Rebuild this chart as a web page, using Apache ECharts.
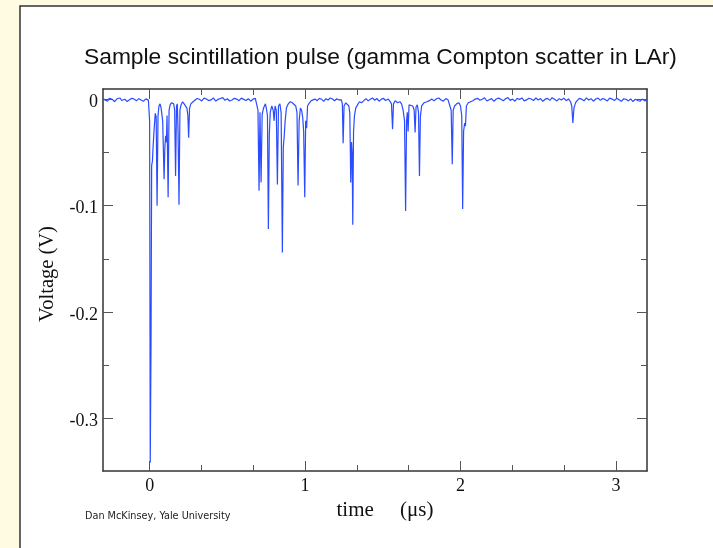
<!DOCTYPE html>
<html>
<head>
<meta charset="utf-8">
<title>Sample scintillation pulse</title>
<script src="https://cdn.jsdelivr.net/npm/echarts@6/dist/echarts.min.js"></script>
<style>
  html, body { margin: 0; padding: 0; background: #FFFBE3; }
  #chart { width: 713px; height: 548px; }
</style>
</head>
<body>
<div id="chart"></div>
<script>
// waveform, [time in us, volts], one array per stretch
const baselinePre = [
  [-0.30, 0.001], [-0.285, -0.0005], [-0.27, -0.0015], [-0.26, 0.0012], [-0.24, 0.0003], [-0.225, -0.002],
  [-0.21, 0.0008], [-0.19, 0.0015], [-0.18, -0.0008], [-0.16, 0.0004], [-0.145, -0.0018], [-0.13, -0.0002],
  [-0.115, 0.0012], [-0.10, 0.0006], [-0.085, -0.0012], [-0.07, 0.0009], [-0.055, -0.0004], [-0.04, -0.0016],
  [-0.025, 0.0007], [-0.008, -0.0005]
];
const burst1 = [
  [-0.003, -0.001], [0.000, -0.020], [0.004, -0.342], [0.009, -0.230], [0.013, -0.062], [0.018, -0.058],
  [0.022, -0.045], [0.028, -0.030], [0.036, -0.013], [0.042, -0.016], [0.048, -0.100], [0.054, -0.015],
  [0.060, -0.006], [0.067, -0.004], [0.074, -0.008], [0.084, -0.020], [0.093, -0.075], [0.098, -0.045],
  [0.103, -0.034], [0.108, -0.040], [0.112, -0.015], [0.119, -0.092], [0.125, -0.010], [0.132, -0.005],
  [0.140, -0.003], [0.148, -0.002], [0.155, -0.004], [0.161, -0.010], [0.167, -0.072], [0.173, -0.006],
  [0.178, -0.004], [0.183, -0.030], [0.189, -0.099], [0.195, -0.010], [0.202, -0.005], [0.212, -0.002],
  [0.222, -0.004], [0.232, -0.003], [0.240, -0.008], [0.246, -0.015], [0.251, -0.036], [0.257, -0.008],
  [0.265, -0.004], [0.279, -0.002], [0.290, -0.0005]
];
const baselineMid1 = [
  [0.305, 0.001], [0.32, 0.0003], [0.335, -0.0012], [0.35, 0.0014], [0.365, 0.0006], [0.38, -0.0009],
  [0.395, -0.0003], [0.41, 0.0016], [0.425, -0.0014], [0.44, 0.0002], [0.455, 0.0011], [0.47, 0.0019],
  [0.485, -0.0006], [0.50, 0.0008], [0.515, -0.0013], [0.53, -0.0004], [0.545, 0.0012], [0.56, 0.0005],
  [0.575, -0.001], [0.59, 0.0014], [0.605, 0.0002], [0.62, -0.0008], [0.635, 0.0009], [0.65, -0.0015],
  [0.665, 0.0004], [0.68, 0.0011]
];
const burst2 = [
  [0.691, 0.000], [0.697, -0.010], [0.704, -0.086], [0.710, -0.012], [0.717, -0.078], [0.724, -0.014],
  [0.733, -0.008], [0.745, -0.004], [0.753, -0.010], [0.758, -0.015], [0.764, -0.122], [0.770, -0.033],
  [0.776, -0.012], [0.786, -0.006], [0.795, -0.010], [0.801, -0.020], [0.807, -0.006], [0.815, -0.010],
  [0.822, -0.080], [0.829, -0.006], [0.838, -0.004], [0.846, -0.012], [0.854, -0.144], [0.860, -0.045],
  [0.866, -0.034], [0.872, -0.020], [0.880, -0.008], [0.892, -0.004], [0.905, -0.002], [0.918, -0.003],
  [0.930, -0.002], [0.940, -0.006], [0.948, -0.012], [0.955, -0.081], [0.962, -0.020], [0.970, -0.008],
  [0.978, -0.010], [0.985, -0.017], [0.991, -0.030], [0.998, -0.092], [1.004, -0.020], [1.010, -0.027],
  [1.016, -0.006], [1.028, -0.003], [1.040, -0.001], [1.052, -0.002], [1.064, 0.0005]
];
const baselineMid2 = [
  [1.078, -0.001], [1.092, 0.0012], [1.106, 0.0004], [1.12, -0.0016], [1.134, 0.0009], [1.148, -0.0003],
  [1.162, 0.0015], [1.176, 0.0006], [1.19, -0.0011], [1.204, 0.0008], [1.218, -0.0004]
];
const burst3 = [
  [1.233, 0.000], [1.240, -0.004], [1.245, -0.041], [1.251, -0.006], [1.262, -0.003], [1.272, -0.002],
  [1.282, -0.006], [1.288, -0.013], [1.294, -0.078], [1.299, -0.040], [1.303, -0.050], [1.307, -0.118],
  [1.312, -0.030], [1.318, -0.015], [1.326, -0.008], [1.337, -0.005], [1.350, -0.002], [1.363, -0.003],
  [1.378, -0.001]
];
const baselineMid3 = [
  [1.392, 0.0009], [1.406, -0.0012], [1.42, 0.0003], [1.434, 0.0016], [1.448, -0.0006], [1.462, 0.0011],
  [1.476, -0.0015], [1.49, 0.0002], [1.504, 0.0013], [1.518, -0.0008], [1.535, 0.0005]
];
const burst4 = [
  [1.548, -0.002], [1.556, -0.004], [1.563, -0.028], [1.569, -0.004], [1.580, -0.001], [1.595, -0.003],
  [1.610, -0.002], [1.621, -0.004], [1.631, -0.010], [1.640, -0.020], [1.647, -0.105], [1.653, -0.020],
  [1.658, -0.012], [1.663, -0.030], [1.669, -0.005], [1.680, -0.004], [1.693, -0.006], [1.702, -0.010],
  [1.708, -0.031], [1.714, -0.007], [1.722, -0.005], [1.730, -0.012], [1.736, -0.072], [1.742, -0.016],
  [1.750, -0.006], [1.765, -0.003], [1.784, -0.002], [1.800, -0.001], [1.815, 0.0005]
];
const baselineMid4 = [
  [1.83, -0.0012], [1.845, 0.0008], [1.86, 0.0015], [1.875, -0.0004], [1.89, -0.0014], [1.905, 0.001],
  [1.92, -0.0002]
];
const burst5 = [
  [1.932, -0.001], [1.940, -0.010], [1.947, -0.061], [1.953, -0.010], [1.962, -0.006], [1.975, -0.004],
  [1.990, -0.003], [2.000, -0.006], [2.008, -0.015], [2.014, -0.103], [2.020, -0.030], [2.027, -0.022],
  [2.032, -0.025], [2.038, -0.006], [2.050, -0.003], [2.065, -0.002], [2.080, -0.001], [2.095, 0.0005]
];
const baselineMid5 = [
  [2.11, 0.0012], [2.125, -0.0006], [2.14, 0.0004], [2.155, 0.0017], [2.17, -0.0013], [2.185, -0.0002],
  [2.20, 0.0009], [2.215, -0.0017], [2.23, 0.0006], [2.245, 0.0014], [2.26, 0.0003], [2.275, -0.0011],
  [2.29, 0.0008], [2.305, 0.0019], [2.32, -0.0007], [2.335, 0.0005], [2.35, -0.0015], [2.365, 0.0011],
  [2.38, 0.0002], [2.395, 0.0016], [2.41, -0.0012], [2.425, -0.0003], [2.44, 0.0013], [2.455, 0.0006],
  [2.47, -0.0009], [2.485, 0.0015], [2.50, -0.0004], [2.515, 0.001], [2.53, -0.0016], [2.545, 0.0004],
  [2.56, 0.0012], [2.575, -0.0007], [2.59, 0.0018], [2.605, 0.0003], [2.62, -0.0012], [2.635, 0.0009],
  [2.65, -0.0003], [2.665, 0.0014], [2.68, -0.001], [2.695, 0.0006]
];
const dip6 = [
  [2.708, -0.002], [2.716, -0.006], [2.723, -0.022], [2.730, -0.008], [2.740, -0.003], [2.750, -0.001]
];
const baselineTail = [
  [2.765, 0.0012], [2.78, 0.0004], [2.795, -0.0011], [2.81, 0.0016], [2.825, -0.0003], [2.84, 0.0009],
  [2.855, -0.0015], [2.87, 0.0006], [2.885, 0.0014], [2.90, -0.0007], [2.915, 0.0011], [2.93, 0.0002],
  [2.945, -0.0013], [2.96, 0.0015], [2.975, 0.0005], [2.99, -0.0009], [3.005, 0.0012], [3.02, -0.0002],
  [3.035, -0.0016], [3.05, 0.0008], [3.065, 0.0003], [3.08, -0.0012], [3.095, 0.0006], [3.11, -0.0019],
  [3.125, 0.0004], [3.14, -0.0008], [3.155, -0.0016], [3.17, 0.0005], [3.185, -0.0012], [3.20, -0.0004]
];

const xMajor = [0, 1, 2, 3];
const xMinor = [0.3333, 0.6667, 1.3333, 1.6667, 2.3333, 2.6667];
const yMajor = [0, -0.1, -0.2, -0.3];
const yMinor = [-0.05, -0.15, -0.25];

const pulse = [].concat(baselinePre, burst1, baselineMid1, burst2, baselineMid2, burst3,
  baselineMid3, burst4, baselineMid4, burst5, baselineMid5, dip6, baselineTail);

const serif = 'Liberation Serif';

// one axis per tick set and side, so major/minor ticks get their own length
function frameAxis(pos, min, max, ticks, len, withLine, withLabels) {
  return {
    type: 'value', position: pos, min: min, max: max,
    axisLine: { show: withLine, onZero: false, lineStyle: { color: '#333', width: 1.5 } },
    axisTick: { show: true, inside: true, length: len, customValues: ticks,
      lineStyle: { color: '#555', width: 1 } },
    axisLabel: { show: withLabels, customValues: ticks, margin: 6,
      fontFamily: serif, fontSize: 18, color: '#111' },
    splitLine: { show: false }
  };
}

const chart = echarts.init(document.getElementById('chart'));

const xBottom = frameAxis('bottom', -0.3, 3.2, xMajor, 10, true, true);
xBottom.name = 'time     (μs)';
xBottom.nameLocation = 'middle';
xBottom.nameGap = 27;
xBottom.nameTextStyle = { fontFamily: serif, fontSize: 21, color: '#111', padding: [0, 0, 0, 20] };

const yLeft = frameAxis('left', -0.35, 0.01, yMajor, 10, true, true);
yLeft.axisLabel.margin = 5;
// nudge the numbers ~3px down so they sit level with their ticks
yLeft.axisLabel.verticalAlign = 'top';
yLeft.axisLabel.lineHeight = 6;
yLeft.name = 'Voltage (V)';
yLeft.nameLocation = 'middle';
yLeft.nameGap = 42;
yLeft.nameTextStyle = { fontFamily: serif, fontSize: 20.5, color: '#111', padding: [0, 0, 0, 12] };

chart.setOption({
  backgroundColor: '#FFFBE3',
  animation: false,
  graphic: [{
    type: 'rect', z: -10, silent: true,
    shape: { x: 20, y: 6, width: 720, height: 570 },
    style: { fill: '#fff', stroke: '#333', lineWidth: 1.5 }
  }],
  title: [{
    text: 'Sample scintillation pulse (gamma Compton scatter in LAr)',
    left: 84, top: 46, padding: 0,
    textStyle: { fontFamily: 'Liberation Sans', fontSize: 22.8, fontWeight: 'normal', color: '#111' }
  }, {
    text: 'Dan McKinsey, Yale University',
    left: 85, top: 511, padding: 0,
    textStyle: { fontFamily: 'DejaVu Sans', fontSize: 9.7, fontWeight: 'normal', color: '#222' }
  }],
  grid: { left: 103, top: 89, right: 66, bottom: 77, containLabel: false },
  xAxis: [
    xBottom,
    frameAxis('bottom', -0.3, 3.2, xMinor, 6, false, false),
    frameAxis('top', -0.3, 3.2, xMajor, 10, true, false),
    frameAxis('top', -0.3, 3.2, xMinor, 6, false, false)
  ],
  yAxis: [
    yLeft,
    frameAxis('left', -0.35, 0.01, yMinor, 6, false, false),
    frameAxis('right', -0.35, 0.01, yMajor, 10, true, false),
    frameAxis('right', -0.35, 0.01, yMinor, 6, false, false)
  ],
  series: [{
    type: 'line', xAxisIndex: 0, yAxisIndex: 0,
    data: pulse, showSymbol: false, symbol: 'none',
    lineStyle: { color: '#2a4bff', width: 1.2, join: 'bevel' },
    clip: true
  }]
});
</script>
</body>
</html>
